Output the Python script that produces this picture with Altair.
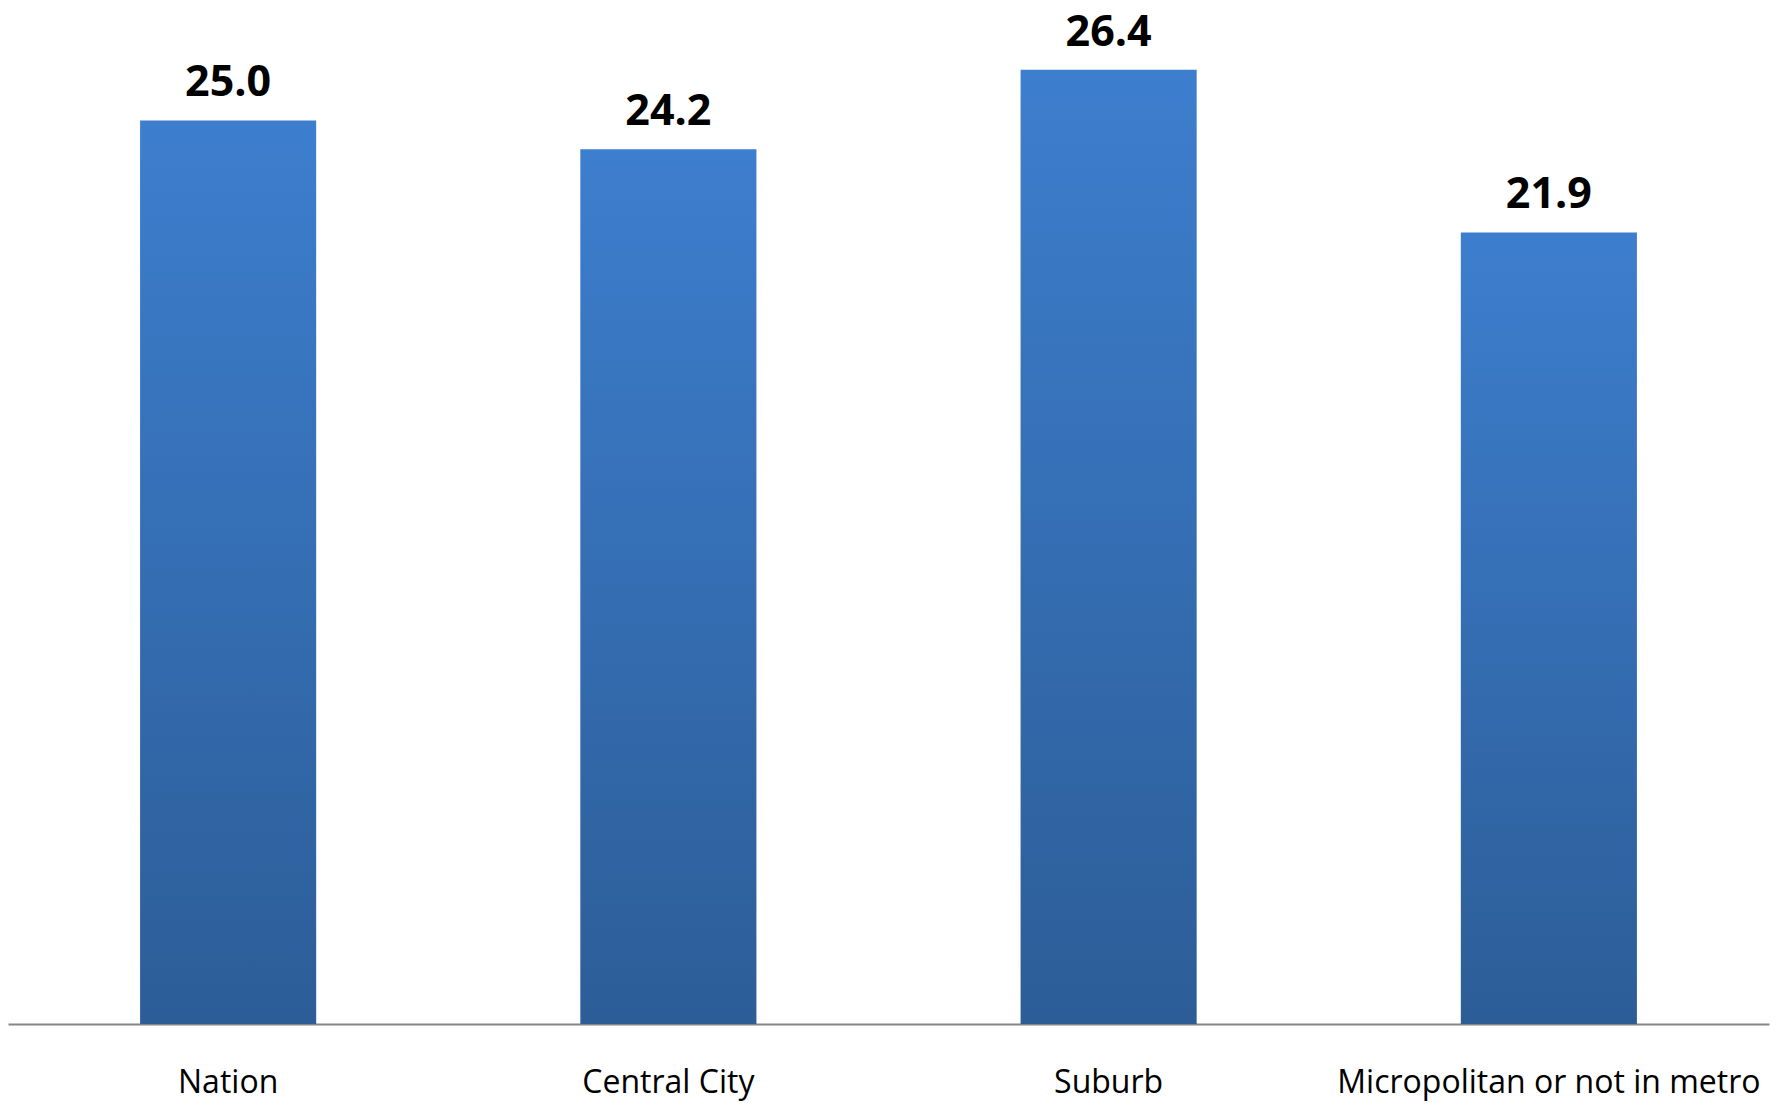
import altair as alt
import pandas as pd

categories = ["Nation", "Central City", "Suburb", "Micropolitan or not in metro"]
values = [25.0, 24.2, 26.4, 21.9]

df = pd.DataFrame({"category": categories, "value": values})
df["label"] = df["value"].map(lambda v: f"{v:.1f}")

x_enc = alt.X(
    "category:N",
    sort=categories,
    scale=alt.Scale(paddingInner=0.6, paddingOuter=0.3),
    axis=alt.Axis(
        title=None,
        labelAngle=0,
        ticks=False,
        domainColor="#868686",
        domainWidth=2,
        labelFont="Open Sans",
        labelFontSize=32,
        labelColor="#000000",
        labelBaseline="top",
        labelPadding=43,
        labelLimit=0,
        grid=False,
    ),
)
y_enc = alt.Y("value:Q", scale=alt.Scale(domain=[0, 28], nice=False), axis=None)

grad = alt.Gradient(
    gradient="linear",
    stops=[
        alt.GradientStop(color="#3D7ECE", offset=0),
        alt.GradientStop(color="#2C5D97", offset=1),
    ],
    x1=0, x2=0, y1=0, y2=1,
)

bars = alt.Chart(df).mark_bar(color=grad).encode(x=x_enc, y=y_enc)

labels = alt.Chart(df).mark_text(
    font="Open Sans",
    fontSize=43,
    fontWeight="bold",
    color="#000000",
    baseline="alphabetic",
    dy=-24,
).encode(x=alt.X("category:N", sort=categories), y="value:Q", text="label:N")

chart = (
    alt.layer(bars, labels)
    .properties(
        width=1761,
        height=1012,
        autosize=alt.AutoSizeParams(type="none"),
        padding={"left": 8, "top": 12, "right": 17, "bottom": 79},
        background="#ffffff",
    )
    .configure_view(stroke=None)
)

chart.save("out.html", embed_options={"renderer": "svg", "actions": False})
